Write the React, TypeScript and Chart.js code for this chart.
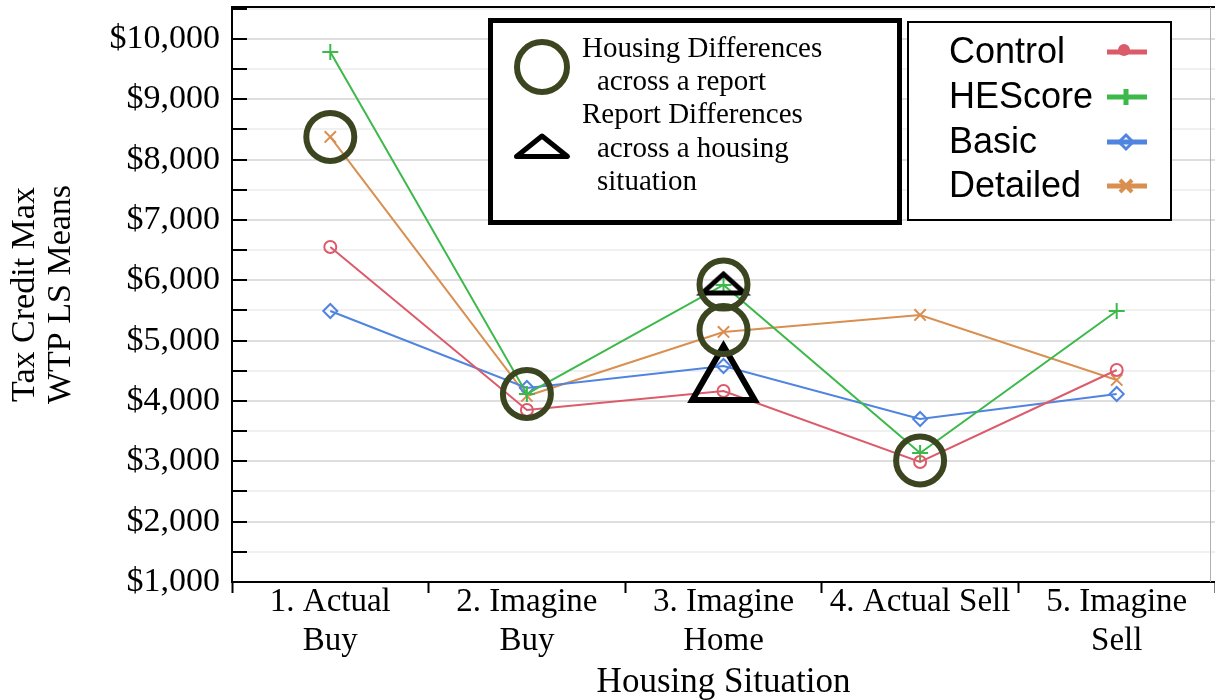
import React, { useEffect, useRef } from 'react';
import { Chart, registerables } from 'chart.js';

Chart.register(...registerables);

// ---------- data ----------
const categories: string[][] = [
  ['1. Actual', 'Buy'],
  ['2. Imagine', 'Buy'],
  ['3. Imagine', 'Home'],
  ['4. Actual Sell'],
  ['5. Imagine', 'Sell'],
];
const seriesNames = ['Control', 'HEScore', 'Basic', 'Detailed'];
const controlValues = [6553, 3851, 4166, 2989, 4514];
const hescoreValues = [9785, 4116, 5923, 3138, 5492];
const basicValues = [5492, 4216, 4580, 3702, 4116];
const detailedValues = [8376, 4083, 5144, 5426, 4348];

const yMin = 1000;
const yMax = 10530;
const yTickValues = [
  1000, 1500, 2000, 2500, 3000, 3500, 4000, 4500, 5000, 5500,
  6000, 6500, 7000, 7500, 8000, 8500, 9000, 9500, 10000, 10500,
];

// annotation markers (category index + value)
const housingCircleCats = [0, 1, 2, 2, 3];
const housingCircleValues = [8376, 4116, 5930, 5177, 3014];
const reportTriangleCats = [2];
const reportTriangleValues = [4315];
const reportFlatTriangleCats = [2];
const reportFlatTriangleValues = [5923];

const yTitleLines = ['Tax Credit Max', 'WTP LS Means'];
const xTitle = 'Housing Situation';
const annotationLines = [
  'Housing Differences',
  'across a report',
  'Report Differences',
  'across a housing',
  'situation',
];

// ---------- styles ----------
const seriesColors = ['#dc5b6b', '#3cb94a', '#4f84e0', '#d98f50'];
const seriesPointStyles = ['circle', 'cross', 'rectRot', 'crossRot'];
const seriesPointRadius = [6, 8, 7, 8];
const OLIVE = '#3b4621';
const SERIF = '"Liberation Serif", "Times New Roman", serif';
const SANS = '"Liberation Sans", Arial, sans-serif';

function layered(cats: number[], vals: number[]): (number | null)[][] {
  const layers: (number | null)[][] = [];
  cats.forEach((c, i) => {
    let layer = layers.find((l) => l[c] === null);
    if (!layer) {
      layer = categories.map(() => null);
      layers.push(layer);
    }
    layer[c] = vals[i];
  });
  return layers;
}

function makeFlatTriangle(): HTMLCanvasElement {
  const c = document.createElement('canvas');
  c.width = 70;
  c.height = 34;
  const g = c.getContext('2d')!;
  g.strokeStyle = '#000';
  g.lineWidth = 5;
  g.lineJoin = 'miter';
  g.beginPath();
  g.moveTo(35, 6);
  g.lineTo(56, 25);
  g.lineTo(14, 25);
  g.closePath();
  g.stroke();
  return c;
}

function zeroPadding(s: any) {
  s.paddingTop = 0;
  s.paddingBottom = 0;
  s.paddingLeft = 0;
  s.paddingRight = 0;
}

const overlayPlugin = {
  id: 'overlay',
  afterDraw(chart: any) {
    const { ctx, chartArea, scales } = chart;
    const y = scales.y;
    ctx.save();
    // inward y ticks
    ctx.strokeStyle = '#000';
    ctx.lineWidth = 2;
    y.ticks.forEach((t: any) => {
      const py = Math.round(y.getPixelForValue(t.value));
      ctx.beginPath();
      ctx.moveTo(chartArea.left, py);
      ctx.lineTo(chartArea.left + 15, py);
      ctx.stroke();
    });
    // top border
    ctx.beginPath();
    ctx.moveTo(chartArea.left - 1, chartArea.top);
    ctx.lineTo(chartArea.right, chartArea.top);
    ctx.stroke();
    // faint right border
    ctx.strokeStyle = '#b0b0b0';
    ctx.lineWidth = 1;
    ctx.beginPath();
    ctx.moveTo(chartArea.right - 4.5, chartArea.top);
    ctx.lineTo(chartArea.right - 4.5, chartArea.bottom);
    ctx.stroke();

    // ----- annotation key box -----
    ctx.fillStyle = '#fff';
    ctx.fillRect(490, 20, 410, 203);
    ctx.lineWidth = 5;
    ctx.strokeStyle = '#000';
    ctx.strokeRect(490.5, 20.5, 409, 202);
    // circle icon
    ctx.beginPath();
    ctx.arc(542, 67, 25, 0, Math.PI * 2);
    ctx.lineWidth = 6;
    ctx.strokeStyle = OLIVE;
    ctx.stroke();
    // triangle icon
    ctx.beginPath();
    ctx.moveTo(542, 136);
    ctx.lineTo(567.5, 156.5);
    ctx.lineTo(516.5, 156.5);
    ctx.closePath();
    ctx.lineWidth = 5;
    ctx.lineJoin = 'round';
    ctx.strokeStyle = '#000';
    ctx.stroke();
    ctx.lineJoin = 'miter';
    // texts
    ctx.fillStyle = '#000';
    ctx.font = `29px ${SERIF}`;
    ctx.textBaseline = 'alphabetic';
    ctx.textAlign = 'left';
    const annX = [582, 597, 582, 597, 597];
    const annY = [57, 90, 123, 157, 190];
    annotationLines.forEach((s, i) => ctx.fillText(s, annX[i], annY[i]));

    // ----- series legend box -----
    ctx.fillStyle = '#fff';
    ctx.fillRect(908, 22, 263, 198);
    ctx.lineWidth = 2;
    ctx.strokeStyle = '#000';
    ctx.strokeRect(908, 22, 263, 198);
    ctx.font = `36px ${SANS}`;
    const baselines = [63, 108, 153, 197];
    seriesNames.forEach((name, i) => {
      ctx.fillStyle = '#000';
      ctx.fillText(name, 949, baselines[i]);
      const ly = baselines[i] - 11;
      const col = seriesColors[i];
      ctx.strokeStyle = col;
      ctx.fillStyle = col;
      ctx.lineWidth = 5;
      ctx.lineCap = 'butt';
      ctx.beginPath();
      ctx.moveTo(1107, ly);
      ctx.lineTo(1147, ly);
      ctx.stroke();
      const mx = 1126;
      ctx.beginPath();
      if (i === 0) {
        ctx.arc(mx - 2, ly - 2, 6, 0, Math.PI * 2);
        ctx.fill();
      } else if (i === 1) {
        ctx.lineWidth = 5;
        ctx.moveTo(mx, ly - 8);
        ctx.lineTo(mx, ly + 8);
        ctx.stroke();
      } else if (i === 2) {
        ctx.lineWidth = 3;
        ctx.moveTo(mx, ly - 7);
        ctx.lineTo(mx + 7, ly);
        ctx.lineTo(mx, ly + 7);
        ctx.lineTo(mx - 7, ly);
        ctx.closePath();
        ctx.stroke();
      } else {
        ctx.lineWidth = 4;
        ctx.moveTo(mx - 6, ly - 6);
        ctx.lineTo(mx + 6, ly + 6);
        ctx.moveTo(mx + 6, ly - 6);
        ctx.lineTo(mx - 6, ly + 6);
        ctx.stroke();
      }
    });
    ctx.restore();
  },
};

export default function App() {
  const ref = useRef<HTMLCanvasElement>(null);

  useEffect(() => {
    const canvas = ref.current!;
    const flatTri = makeFlatTriangle();
    const seriesValues = [controlValues, hescoreValues, basicValues, detailedValues];

    const seriesDatasets = seriesNames.map((name, i) => ({
      label: name,
      data: seriesValues[i],
      borderColor: seriesColors[i],
      backgroundColor: 'transparent',
      borderWidth: 2,
      pointStyle: seriesPointStyles[i],
      pointRadius: seriesPointRadius[i],
      pointBorderWidth: 2,
      pointBorderColor: seriesColors[i],
      pointBackgroundColor: 'transparent',
      tension: 0,
      order: i + 1,
    }));

    const circleDatasets = layered(housingCircleCats, housingCircleValues).map((d, i) => ({
      label: 'circles' + i,
      data: d,
      showLine: false,
      pointStyle: 'circle',
      pointRadius: 24,
      pointBorderWidth: 6,
      pointBorderColor: OLIVE,
      pointBackgroundColor: 'transparent',
      order: 0,
    }));
    const triDatasets = layered(reportTriangleCats, reportTriangleValues).map((d, i) => ({
      label: 'tri' + i,
      data: d,
      showLine: false,
      pointStyle: 'triangle',
      pointRadius: 36,
      pointBorderWidth: 6,
      pointBorderColor: '#000',
      pointBackgroundColor: 'transparent',
      order: 0,
    }));
    const flatTriDatasets = layered(reportFlatTriangleCats, reportFlatTriangleValues).map((d, i) => ({
      label: 'flatTri' + i,
      data: d,
      showLine: false,
      pointStyle: flatTri,
      pointRadius: 20,
      order: 0,
    }));

    const chart = new Chart(canvas, {
      type: 'line',
      data: {
        labels: categories,
        datasets: [...circleDatasets, ...triDatasets, ...flatTriDatasets, ...seriesDatasets] as any,
      },
      plugins: [overlayPlugin],
      options: {
        responsive: false,
        animation: false,
        events: [],
        layout: { autoPadding: false, padding: { top: 7, right: 0, left: 0, bottom: 0 } },
        plugins: {
          legend: { display: false },
          tooltip: { enabled: false },
        },
        scales: {
          x: {
            type: 'category',
            offset: true,
            afterFit: (s: any) => {
              s.height = 118;
              zeroPadding(s);
            },
            border: { display: true, color: '#000', width: 2 },
            grid: {
              display: true,
              offset: true,
              drawOnChartArea: false,
              drawTicks: true,
              tickLength: 11,
              tickColor: '#000',
              tickWidth: 2,
            },
            ticks: {
              autoSkip: false,
              maxRotation: 0,
              minRotation: 0,
              padding: -10,
              color: '#000',
              font: { family: SERIF, size: 33, lineHeight: 1.18 },
            },
            title: {
              display: true,
              text: xTitle,
              color: '#000',
              font: { family: SERIF, size: 35, lineHeight: 1 },
              padding: { top: 0, bottom: 0 },
            },
          },
          y: {
            type: 'linear',
            min: yMin,
            max: yMax,
            afterBuildTicks: (s: any) => {
              s.ticks = yTickValues.map((v) => ({ value: v }));
            },
            afterFit: (s: any) => {
              s.width = 232;
              zeroPadding(s);
            },
            border: { display: true, color: '#000', width: 2 },
            grid: {
              drawTicks: false,
              lineWidth: 2,
              color: (c: any) => (c.tick && c.tick.value % 1000 === 0 ? '#dedede' : '#f0f0f0'),
            },
            ticks: {
              autoSkip: false,
              padding: 12,
              color: '#000',
              font: { family: SERIF, size: 34 },
              callback: (v: any) =>
                Number(v) % 1000 === 0 ? '$' + Number(v).toLocaleString('en-US') : '',
            },
            title: {
              display: true,
              text: yTitleLines,
              color: '#000',
              font: { family: SERIF, size: 34, lineHeight: 1.06 },
              padding: { top: 7, bottom: 0 },
            },
          },
        },
      } as any,
    });
    return () => chart.destroy();
  }, []);

  return (
    <div style={{ position: 'fixed', left: 0, top: 0, width: 1215, height: 700, background: '#fff' }}>
      <canvas ref={ref} width={1215} height={700} style={{ display: 'block' }} />
    </div>
  );
}
